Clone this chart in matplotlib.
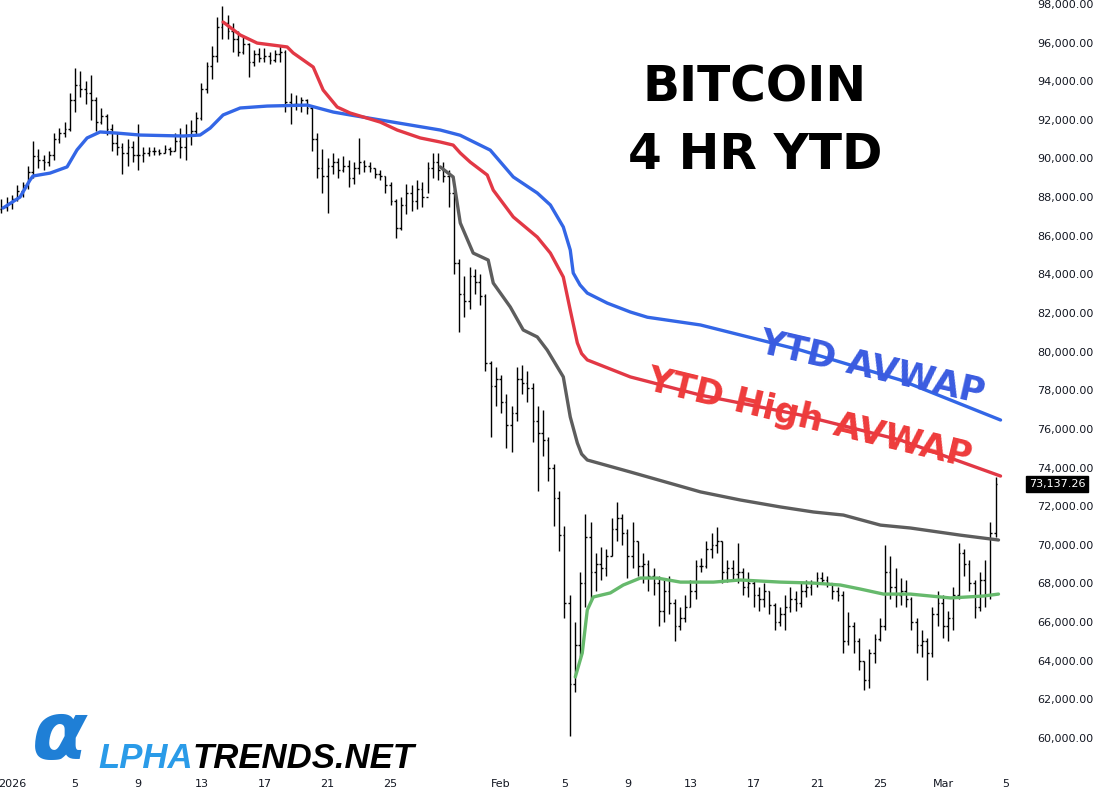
import numpy as np
import matplotlib.pyplot as plt
from matplotlib import transforms

# 8-hour bars, price in thousands of USD; day 0 = Jan 1 2026
first_bar_day = -2 / 3
bars_per_day = 3
first_open = 87.4

lows = [87.2, 87.3,
        87.4, 87.8, 88.0,  88.4, 89.0, 89.5,  89.4, 89.6, 89.9,  90.8, 91.1, 91.4,
        92.4, 93.2, 92.8,  92.0, 91.4, 91.8,  91.2, 90.4, 90.2,  89.2, 89.6, 89.8,
        89.4, 89.8, 90.1,  90.2, 90.2, 90.3,  90.2, 90.4, 90.0,  89.9, 90.7, 91.2,
        92.0, 93.4, 94.1,  95.0, 96.2, 96.2,  95.5, 95.3, 95.4,  94.2, 94.8, 95.0,
        95.0, 94.9, 95.0,  95.0, 92.4, 91.8,  92.5, 92.4, 92.3,  90.4, 89.0, 88.2,
        87.2, 89.2, 89.0,  89.3, 88.5, 88.7,  89.2, 89.3, 89.3,  89.0, 88.9, 88.2,
        87.6, 85.9, 86.3,  87.1, 87.3, 87.4,  87.5, 88.2, 89.0,  88.9, 88.8, 87.5,
        84.0, 81.0, 81.8,  82.2, 83.0, 82.4,  79.0, 75.6, 77.2,  76.8, 75.0, 74.8,
        76.4, 77.8, 77.4,  75.3, 72.8, 74.6,  73.3, 71.0, 69.7,  66.2, 60.1, 62.4,
        64.2, 66.8, 67.2,  67.6, 68.2, 68.4,  69.4, 70.2, 70.0,  68.3, 68.8, 68.4,
        68.0, 67.6, 67.4,  65.8, 66.0, 66.4,  65.0, 65.6, 66.0,  66.8, 67.2, 68.6,
        68.8, 69.3, 69.6,  68.0, 68.1, 68.2,  68.0, 67.4, 67.3,  66.8, 66.6, 66.8,
        66.4, 65.6, 65.8,  65.6, 66.5, 66.6,  66.8, 67.3, 67.4,  67.8, 68.0, 67.8,
        67.2, 67.1, 64.4,  64.8, 64.4, 63.5,  62.5, 62.6, 63.9,  65.0, 65.6, 67.2,
        66.8, 66.9, 66.8,  65.6, 64.4, 64.2,  63.0, 64.2, 65.8,  65.2, 65.0, 65.6,
        67.2, 68.4, 67.6,  66.2, 66.6, 66.8,  67.2, 70.4]

highs = [87.9, 88.0,
         88.1, 88.6, 88.8,  89.6, 90.9, 90.5,  90.2, 90.4, 91.3,  91.6, 91.9, 93.4,
         94.7, 94.5, 94.0,  94.3, 93.2, 92.6,  92.3, 91.8, 91.3,  90.8, 91.0, 90.9,
         91.8, 90.6, 90.6,  90.6, 90.5, 90.7,  90.6, 91.3, 91.6,  91.8, 92.0, 92.4,
         93.9, 95.0, 95.8,  97.3, 97.9, 97.4,  97.0, 96.6, 96.3,  96.0, 95.6, 95.7,
         95.7, 95.5, 95.6,  95.8, 95.6, 93.4,  93.3, 93.2, 93.1,  92.7, 91.3, 90.5,
         90.0, 90.3, 90.0,  90.1, 89.9, 89.8,  91.05, 89.9, 89.8,  89.5, 89.4, 89.1,
         88.8, 87.9, 88.0,  88.7, 88.6, 88.9,  88.8, 89.8, 90.3,  90.3, 89.8, 89.4,
         88.4, 84.8, 83.9,  84.4, 84.3, 84.0,  83.0, 79.5, 79.2,  78.8, 77.8, 77.2,
         79.2, 79.3, 79.0,  78.4, 77.2, 77.0,  75.6, 74.2, 72.8,  71.0, 67.4, 66.0,
         68.6, 71.6, 71.2,  69.6, 69.9, 69.8,  71.4, 72.2, 71.6,  70.8, 71.2, 70.2,
         69.6, 69.2, 68.8,  68.4, 68.2, 68.4,  67.2, 66.8, 67.4,  68.2, 69.2, 69.3,
         70.2, 70.6, 70.9,  70.2, 69.2, 69.2,  70.1, 68.8, 68.6,  68.2, 67.8, 68.0,
         67.6, 67.0, 66.8,  67.4, 67.8, 67.6,  68.0, 68.2, 68.2,  68.6, 68.6, 68.4,
         68.0, 67.8, 67.6,  66.5, 66.0, 65.2,  64.0, 64.6, 65.4,  66.2, 70.0, 69.4,
         68.8, 68.3, 68.2,  67.3, 66.2, 65.6,  65.2, 66.8, 67.6,  67.4, 66.6, 67.8,
         70.1, 69.8, 69.2,  68.2, 68.6, 69.2,  71.2, 73.5]

closes = [87.5, 87.7,
          87.9, 88.3, 88.6,  89.3, 90.1, 89.9,  89.8, 90.2, 91.0,  91.3, 91.5, 93.0,
          93.8, 93.6, 93.4,  93.0, 91.9, 92.2,  91.5, 90.8, 90.6,  90.3, 90.6, 90.2,
          90.2, 90.3, 90.4,  90.4, 90.3, 90.5,  90.4, 90.9, 90.6,  91.2, 91.4, 92.1,
          93.6, 94.8, 95.3,  96.8, 97.0, 96.6,  96.2, 95.5, 95.9,  95.0, 95.4, 95.2,
          95.3, 95.1, 95.4,  95.5, 92.9, 92.8,  92.8, 93.0, 92.6,  91.0, 89.5, 89.1,
          89.6, 89.8, 89.4,  89.6, 89.0, 89.5,  89.8, 89.6, 89.5,  89.2, 89.1, 88.6,
          87.8, 86.4, 87.6,  88.2, 87.8, 88.4,  88.0, 89.5, 89.8,  89.4, 89.1, 88.2,
          84.6, 83.0, 82.6,  83.9, 83.6, 82.9,  79.4, 78.2, 78.6,  77.4, 76.2, 76.8,
          78.6, 78.4, 78.1,  76.4, 75.8, 75.4,  74.0, 72.4, 70.5,  67.0, 62.8, 64.8,
          68.0, 70.4, 68.6,  69.0, 68.8, 69.4,  70.8, 71.4, 70.6,  69.4, 70.2, 68.9,
          69.0, 68.4, 68.0,  66.6, 67.6, 67.0,  65.8, 66.2, 66.8,  67.6, 68.9, 68.9,
          69.8, 70.0, 70.2,  68.6, 68.8, 68.5,  68.6, 67.8, 68.0,  67.4, 67.2, 67.6,
          66.9, 66.0, 66.4,  66.8, 67.2, 67.0,  67.6, 67.8, 68.0,  68.3, 68.2, 68.0,
          67.6, 67.4, 65.0,  65.8, 65.0, 64.0,  63.0, 64.4, 65.1,  65.8, 68.6, 67.8,
          67.4, 67.6, 67.2,  66.0, 64.8, 65.0,  64.4, 66.4, 67.0,  65.8, 66.2, 67.4,
          69.6, 69.0, 68.0,  66.8, 68.2, 67.4,  70.6, 73.13726]

# anchored VWAP lines (day, value in thousands)
blue_day = [-0.57, 0.51, 1.14, 1.33, 2.41, 3.49, 4.12, 4.76, 5.58, 6.66, 8.12, 10.84,
            11.92, 12.56, 13.38, 14.46, 16.17, 18.71, 20.36, 21.43, 23.34, 27.14,
            28.4, 30.31, 31.77, 33.29, 34.12, 34.94, 35.38, 35.57, 36.0, 36.46, 37.73,
            39.19, 40.27, 43.63, 49.97, 56.31, 62.65]
blue_val = [87.43, 88.0, 88.88, 89.09, 89.24, 89.56, 90.44, 91.06, 91.37, 91.31, 91.21,
            91.16, 91.21, 91.57, 92.25, 92.61, 92.71, 92.76, 92.4, 92.25, 91.99, 91.47,
            91.2, 90.43, 89.04, 88.21, 87.59, 86.45, 85.26, 84.07, 83.45, 83.03, 82.51,
            82.05, 81.78, 81.38, 80.08, 78.53, 76.46]

red_day = [13.38, 14.46, 15.54, 17.44, 17.82, 19.09, 19.72, 20.61, 21.43, 23.34, 24.41,
           25.87, 27.14, 27.96, 28.41, 29.04, 30.12, 30.5, 31.77, 33.29, 34.12, 34.94,
           35.38, 35.83, 36.1, 36.46, 39.19, 43.63, 49.97, 56.31, 62.65]
red_val = [97.06, 96.39, 95.97, 95.77, 95.46, 94.73, 93.54, 92.66, 92.35, 91.88, 91.47,
           91.06, 90.85, 90.69, 90.28, 89.81, 89.14, 88.36, 86.97, 85.93, 85.1, 83.86,
           82.15, 80.45, 79.9, 79.57, 78.69, 77.75, 76.72, 75.42, 73.56]

gray_day = [27.14, 27.96, 28.41, 29.23, 30.18, 30.5, 31.58, 32.4, 33.29, 33.92, 34.94,
            35.38, 35.83, 36.1, 36.46, 39.19, 43.63, 46.16, 48.7, 50.79, 52.69, 55.04,
            56.94, 60.11, 62.52]
gray_val = [89.56, 89.04, 86.66, 85.1, 84.74, 83.55, 82.31, 81.12, 80.76, 80.08, 78.69,
            76.62, 75.27, 74.7, 74.39, 73.77, 72.74, 72.32, 71.96, 71.7, 71.54, 71.02,
            70.87, 70.5, 70.25]

green_day = [35.7, 36.14, 36.46, 36.84, 37.92, 38.74, 39.82, 40.9, 42.36, 44.45, 46.16,
             48.7, 50.79, 52.5, 53.77, 55.23, 56.94, 59.48, 61.57, 62.52]
green_val = [63.16, 64.4, 66.63, 67.3, 67.51, 67.92, 68.28, 68.28, 68.07, 68.07, 68.18,
             68.07, 68.02, 67.92, 67.71, 67.45, 67.45, 67.25, 67.35, 67.45]

tick_days = [0, 4, 8, 12, 16, 20, 24, 31, 35, 39, 43, 47, 51, 55, 59, 63]
tick_labels = ['2026', '5', '9', '13', '17', '21', '25', 'Feb',
               '5', '9', '13', '17', '21', '25', 'Mar', '5']
price_ticks = list(range(60, 100, 2))

fig = plt.figure(figsize=(10.95, 7.91), dpi=100)
ax = fig.add_axes([0, 15 / 791, 1025 / 1095, 776 / 791])
ax.set_xlim(-0.76, 64.2)
ax.set_ylim(98.2 - 776 * 0.05176, 98.2)

# OHLC bars
x = first_bar_day + np.arange(len(closes)) / bars_per_day
opens = [first_open] + closes[:-1]
ax.vlines(x, lows, highs, color='black', lw=1.0)
ax.hlines(opens, x - 0.11, x, color='black', lw=1.0)
ax.hlines(closes, x, x + 0.11, color='black', lw=1.0)

ax.plot(blue_day, blue_val, color='#3366e6', lw=2.4, solid_capstyle='round')
ax.plot(red_day, red_val, color='#e23845', lw=2.4, solid_capstyle='round')
ax.plot(gray_day, gray_val, color='#5d5d5d', lw=2.4, solid_capstyle='round')
ax.plot(green_day, green_val, color='#66b96c', lw=2.4, solid_capstyle='round')

for s in ax.spines.values():
    s.set_visible(False)
ax.set_xticks(tick_days)
ax.set_xticklabels(tick_labels)
ax.yaxis.tick_right()
ax.set_yticks(price_ticks)
ax.set_yticklabels([f"{v * 1000:,.2f}" for v in price_ticks])
ax.tick_params(axis='y', length=0, pad=9, labelsize=8, labelcolor='#131722')
ax.tick_params(axis='x', length=0, pad=2, labelsize=8, labelcolor='#131722')

# last price label
trans = transforms.blended_transform_factory(ax.transAxes, ax.transData)
ax.text(1.004, closes[-1], f"{closes[-1] * 1000:,.2f}", transform=trans, color='white',
        fontsize=8, va='center', ha='left',
        bbox=dict(boxstyle='square,pad=0.25', fc='black', ec='black'))

# titles
fig.text(755 / 1095, 1 - 88 / 791, 'BITCOIN', ha='center', va='center',
         fontsize=35, fontweight='bold', color='black')
fig.text(755 / 1095, 1 - 155 / 791, '4 HR YTD', ha='center', va='center',
         fontsize=35, fontweight='bold', color='black')

fig.text(872 / 1095, 1 - 368 / 791, 'YTD AVWAP', ha='center', va='center',
         rotation=-13.0, rotation_mode='anchor', fontsize=25, fontweight='bold',
         color='#3a5be0')
fig.text(809 / 1095, 1 - 419 / 791, 'YTD High AVWAP', ha='center', va='center',
         rotation=-13.6, rotation_mode='anchor', fontsize=25, fontweight='bold',
         color='#ee3b3b')

# logo
fig.text(32 / 1095, 1 - 759 / 791, '\u03b1', ha='left', va='baseline', fontsize=58,
         fontweight='bold', fontstyle='italic', color='#1f7fd6')
t1 = fig.text(98 / 1095, 1 - 768 / 791, 'LPHA', ha='left', va='baseline', fontsize=25,
              fontweight='bold', fontstyle='italic', color='#2a9be8',
              family='Liberation Sans')
fig.canvas.draw()
bb = t1.get_window_extent()
fig.text(bb.x1 / fig.bbox.width, 1 - 768 / 791, 'TRENDS.NET', ha='left', va='baseline',
         fontsize=25, fontweight='bold', fontstyle='italic', color='black',
         family='Liberation Sans')

fig.savefig('out.png', dpi=100)
